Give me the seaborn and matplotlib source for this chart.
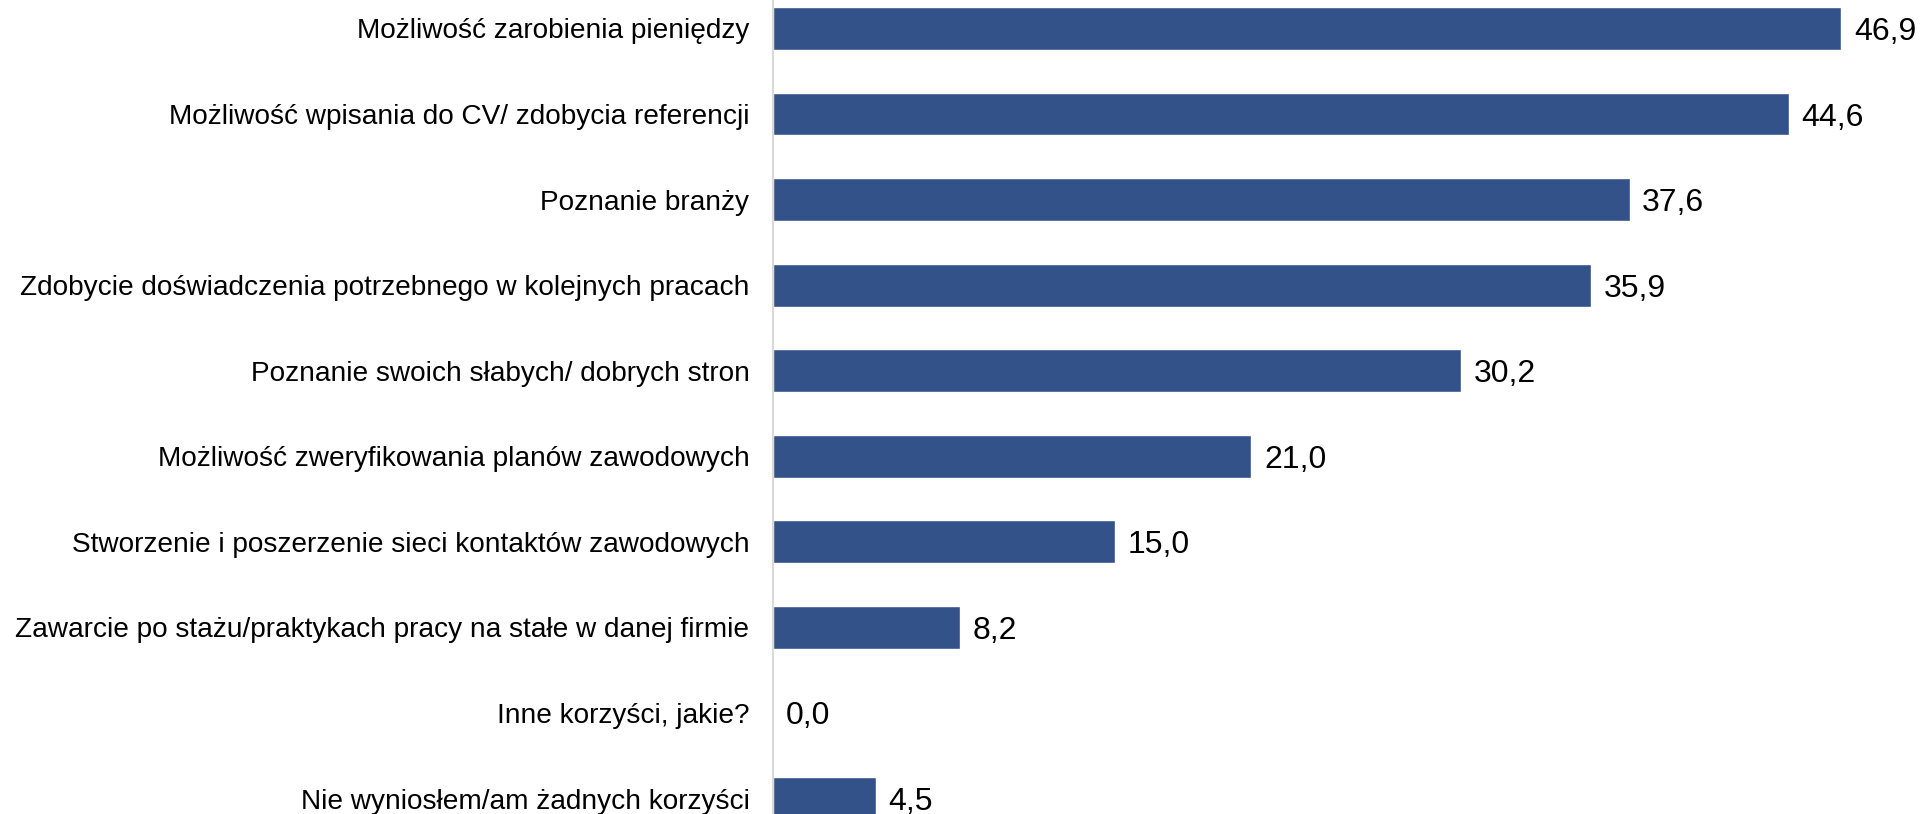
import matplotlib
matplotlib.use('Agg')
import matplotlib.pyplot as plt
import seaborn as sns
import pandas as pd

categories = [
    'Możliwość zarobienia pieniędzy',
    'Możliwość wpisania do CV/ zdobycia referencji',
    'Poznanie branży',
    'Zdobycie doświadczenia potrzebnego w kolejnych pracach',
    'Poznanie swoich słabych/ dobrych stron',
    'Możliwość zweryfikowania planów zawodowych',
    'Stworzenie i poszerzenie sieci kontaktów zawodowych',
    'Zawarcie po stażu/praktykach pracy na stałe w danej firmie',
    'Inne korzyści, jakie?',
    'Nie wyniosłem/am żadnych korzyści',
]
values = [46.9, 44.6, 37.6, 35.9, 30.2, 21.0, 15.0, 8.2, 0.0, 4.5]

df = pd.DataFrame({'kategoria': categories, 'procent': values})

sns.set_theme(style='white')
plt.rcParams['font.family'] = ['Liberation Sans', 'DejaVu Sans']

fig = plt.figure(figsize=(19.23, 8.14), dpi=100)
ax = fig.add_axes([773 / 1923, 0, (1912 - 773) / 1923, 1])

sns.barplot(data=df, x='procent', y='kategoria', orient='h', color='#34528a',
            saturation=1, width=0.5, ax=ax)

# etykiety wartości z przecinkiem
labels = [f'{v:.1f}'.replace('.', ',') for v in values]
txts = ax.bar_label(ax.containers[0], labels=labels, padding=9, fontsize=23, color='black')
for t in txts:
    t.set_va('center_baseline')

ax.set_xlim(0, 50)
ax.set_ylim(9.181, -0.333)
ax.set_xlabel('')
ax.set_ylabel('')
ax.set_xticks([])
ax.tick_params(axis='y', length=0, pad=17, labelsize=20.2, labelcolor='black')
for s in ['top', 'right', 'bottom']:
    ax.spines[s].set_visible(False)
ax.spines['left'].set_color('#d9d9d9')
ax.spines['left'].set_linewidth(1.5)

fig.savefig('out.png', dpi=100, facecolor='white')
